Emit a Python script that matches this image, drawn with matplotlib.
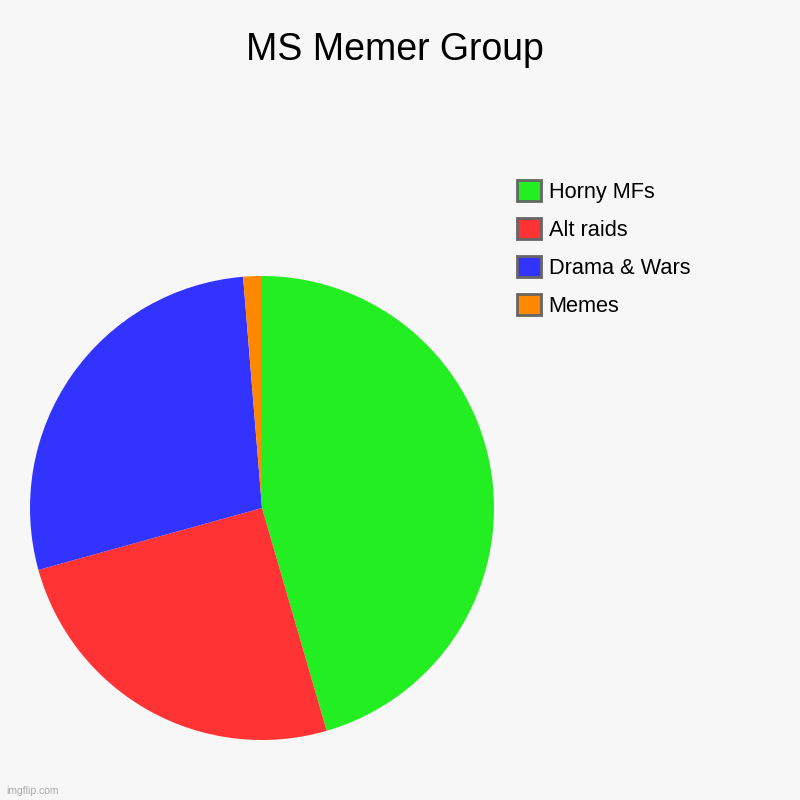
import matplotlib.pyplot as plt
from matplotlib.patches import Patch

# --- DATA ---
title = "MS Memer Group"
labels = ["Horny MFs", "Alt raids", "Drama & Wars", "Memes"]
values = [45.5, 25.2, 28.0, 1.3]
colors = ["#22ee22", "#ff3333", "#3333ff", "#ff8800"]

plt.rcParams['font.family'] = ['Liberation Sans', 'DejaVu Sans']

fig = plt.figure(figsize=(8, 8), dpi=100, facecolor="#f7f7f7")

# pie area
ax = fig.add_axes([30 / 800, 60 / 800, 464 / 800, 464 / 800])
ax.set_facecolor("#f7f7f7")
ax.pie(values, colors=colors, startangle=90, counterclock=False,
       radius=1, wedgeprops={'linewidth': 0})
ax.set_xlim(-1, 1)
ax.set_ylim(-1, 1)
ax.set_aspect('equal')
ax.axis('off')

fig.text(0.494, 1 - 50 / 800, title, ha='center', va='center', fontsize=27)

# legend
handles = [Patch(facecolor=c, edgecolor="#666666", linewidth=2) for c in colors]
fig.legend(handles, labels, loc='upper left',
           bbox_to_anchor=(517 / 800, 1 - 180 / 800), bbox_transform=fig.transFigure,
           frameon=False, fontsize=15.7, handlelength=1.1, handleheight=1.1,
           handletextpad=0.35, labelspacing=0.7, borderpad=0, borderaxespad=0)

fig.text(6 / 800, 1 - 791 / 800, "imgflip.com", fontsize=7.5, color="#aaaaaa",
         ha='left', va='center')

fig.savefig("out.png", dpi=100, facecolor=fig.get_facecolor())
